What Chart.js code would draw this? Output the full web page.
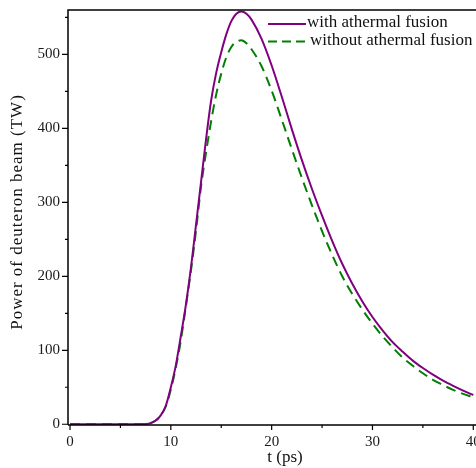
<!DOCTYPE html>
<html>
<head>
<meta charset="utf-8">
<script src="https://cdn.jsdelivr.net/npm/chart.js@4/dist/chart.umd.min.js"></script>
<style>
html,body{margin:0;padding:0;background:#fff;}
#wrap{width:476px;height:468px;position:relative;}
</style>
</head>
<body>
<div id="wrap"><canvas id="c" width="476" height="468"></canvas></div>
<script>
const tWith = [0,7,7.5,8,8.5,9,9.5,10,10.5,11,11.5,12,12.5,13,13.5,14,14.5,15,15.5,16,16.5,17,17.5,18,19,20,21,22,23,24,25,26,27,28,29,30,31,32,33,34,35,36,37,38,39,40];
const pWith = [0,0,0.3,1.5,5,12,25,50,80,120,162,212,270,328,386,438,475,503,527,545,555,558,555,547,521,485,443,399,357,318,282,248,217,190,166,145,127,111,98,86,76,67,59,52,45.5,39.5];
const tWithout = [0,7,7.5,8,8.5,9,9.5,10,10.5,11,11.5,12,12.5,13,13.5,14,14.5,15,15.5,16,16.5,17,17.5,18,19,20,21,22,23,24,25,26,27,28,29,30,31,32,33,34,35,36,37,38,39,40];
const pWithout = [0,0,0.3,1.5,5,12,24,47,77,114,160,208,262,322,368,410,446,474,496,510,517,519,515,507,484,451,412,372,333,296,261,229,200,176,155,136,119,104,90,79,69,60,53,46.5,41,36.5];
const xMajor = [0,10,20,30,40];
const xMinor = [5,15,25,35];
const yMajor = [0,100,200,300,400,500];
const yMinor = [50,150,250,350,450,550];
const seriesNames = ["with athermal fusion","without athermal fusion"];
const xTitle = "t (ps)";
const yTitle = "Power of deuteron beam (TW)";

const FONT = "'Liberation Serif','Times New Roman',serif";
const mk = (ts, ps) => ts.map((t,i)=>({x:t,y:ps[i]}));

const framePlugin = {
  id:'frame',
  afterDraw(chart){
    const {ctx, chartArea:a, scales:{x,y}} = chart;
    ctx.save();
    ctx.strokeStyle='#000';
    ctx.lineWidth=1.5;
    ctx.beginPath();
    ctx.moveTo(a.left, a.bottom); ctx.lineTo(a.left, a.top); ctx.lineTo(a.right, a.top);
    ctx.moveTo(a.left, a.bottom); ctx.lineTo(a.right, a.bottom);
    ctx.stroke();
    ctx.lineWidth=1.2;
    ctx.beginPath();
    xMajor.forEach(v=>{const p=x.getPixelForValue(v); ctx.moveTo(p,a.bottom); ctx.lineTo(p,a.bottom+5);});
    xMinor.forEach(v=>{const p=x.getPixelForValue(v); ctx.moveTo(p,a.bottom); ctx.lineTo(p,a.bottom+3);});
    yMajor.forEach(v=>{const p=y.getPixelForValue(v); ctx.moveTo(a.left,p); ctx.lineTo(a.left-6,p);});
    yMinor.forEach(v=>{const p=y.getPixelForValue(v); ctx.moveTo(a.left,p); ctx.lineTo(a.left-3,p);});
    ctx.stroke();
    // axis titles
    ctx.fillStyle = '#111';
    ctx.font = "17px " + FONT;
    ctx.textAlign = 'center';
    ctx.textBaseline = 'middle';
    ctx.fillText(xTitle, 285, 458);
    ctx.save();
    ctx.translate(18, 212);
    ctx.rotate(-Math.PI/2);
    ctx.letterSpacing = '1px';
    ctx.fillText(yTitle, 0, 0);
    ctx.restore();
    // legend
    ctx.font = "17px " + FONT;
    ctx.textAlign = 'left';
    ctx.fillStyle = '#111';
    ctx.textBaseline = 'middle';
    ctx.lineWidth = 2;
    ctx.strokeStyle = '#800080';
    ctx.setLineDash([]);
    ctx.beginPath(); ctx.moveTo(268,24); ctx.lineTo(306,24); ctx.stroke();
    ctx.fillText(seriesNames[0], 307, 23);
    ctx.strokeStyle = '#008000';
    ctx.setLineDash([9,5]);
    ctx.beginPath(); ctx.moveTo(268,41.5); ctx.lineTo(309,41.5); ctx.stroke();
    ctx.setLineDash([]);
    ctx.fillText(seriesNames[1], 310, 40.5);
    ctx.restore();
  }
};

new Chart(document.getElementById('c'), {
  type:'line',
  data:{datasets:[
    {label:seriesNames[0], data:mk(tWith,pWith), borderColor:'#800080', borderWidth:2, pointRadius:0, cubicInterpolationMode:'monotone', fill:false},
    {label:seriesNames[1], data:mk(tWithout,pWithout), borderColor:'#008000', borderWidth:2, borderDash:[10,6], pointRadius:0, cubicInterpolationMode:'monotone', fill:false}
  ]},
  options:{
    responsive:false, animation:false, events:[],
    layout:{padding:{top:10,right:0,left:0,bottom:0}},
    plugins:{legend:{display:false}, tooltip:{enabled:false}},
    scales:{
      x:{type:'linear', min:-0.2, max:40.27,
        afterBuildTicks:s=>{s.ticks=xMajor.map(v=>({value:v}));},
        afterFit:s=>{s.height=43; s.paddingLeft=0; s.paddingRight=0;},
        grid:{display:false, drawTicks:false}, border:{display:false},
        ticks:{color:'#1a1a1a', font:{family:FONT,size:15}, padding:8, maxRotation:0},
        title:{display:false}
      },
      y:{type:'linear', min:-1, max:560,
        afterBuildTicks:s=>{s.ticks=yMajor.map(v=>({value:v}));},
        afterFit:s=>{s.width=68; s.paddingTop=0; s.paddingBottom=0;},
        grid:{display:false, drawTicks:false}, border:{display:false},
        ticks:{color:'#1a1a1a', font:{family:FONT,size:15}, padding:8},
        title:{display:false}
      }
    }
  },
  plugins:[framePlugin]
});
</script>
</body>
</html>
